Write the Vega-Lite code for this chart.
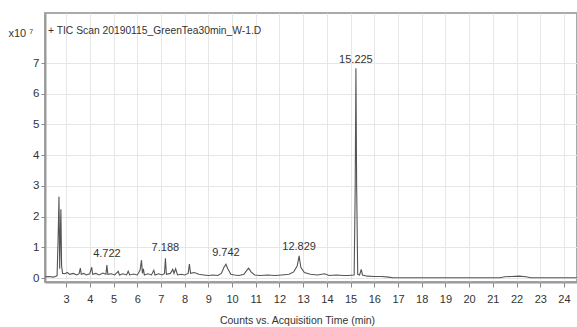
{
  "$schema": "https://vega.github.io/schema/vega-lite/v6.json",
  "width": 532,
  "height": 269,
  "autosize": {"type": "none"},
  "padding": {"left": 45, "top": 13, "right": 0, "bottom": 45},
  "config": {
    "view": {"stroke": "#aaaaaa", "strokeWidth": 2},
    "font": "Liberation Sans, Arial, sans-serif"
  },
  "datasets": {
    "tic": [
      {"t": 2.11, "v": 0.04}, {"t": 2.3, "v": 0.05}, {"t": 2.45, "v": 0.03}, {"t": 2.55, "v": 0.05},
      {"t": 2.62, "v": 0.08}, {"t": 2.66, "v": 1.2}, {"t": 2.7, "v": 2.65}, {"t": 2.73, "v": 0.3},
      {"t": 2.76, "v": 1.5}, {"t": 2.78, "v": 2.24}, {"t": 2.81, "v": 0.4}, {"t": 2.85, "v": 0.15},
      {"t": 2.95, "v": 0.14}, {"t": 3.05, "v": 0.18}, {"t": 3.15, "v": 0.12}, {"t": 3.3, "v": 0.15},
      {"t": 3.45, "v": 0.1}, {"t": 3.55, "v": 0.14}, {"t": 3.6, "v": 0.32}, {"t": 3.64, "v": 0.12},
      {"t": 3.75, "v": 0.15}, {"t": 3.85, "v": 0.1}, {"t": 4.0, "v": 0.14}, {"t": 4.08, "v": 0.35},
      {"t": 4.12, "v": 0.12}, {"t": 4.25, "v": 0.15}, {"t": 4.4, "v": 0.1}, {"t": 4.55, "v": 0.16},
      {"t": 4.68, "v": 0.12}, {"t": 4.72, "v": 0.42}, {"t": 4.76, "v": 0.12}, {"t": 4.9, "v": 0.14},
      {"t": 5.05, "v": 0.1}, {"t": 5.2, "v": 0.22}, {"t": 5.25, "v": 0.1}, {"t": 5.4, "v": 0.14},
      {"t": 5.55, "v": 0.1}, {"t": 5.62, "v": 0.22}, {"t": 5.68, "v": 0.1}, {"t": 5.85, "v": 0.13},
      {"t": 6.0, "v": 0.1}, {"t": 6.12, "v": 0.25}, {"t": 6.18, "v": 0.58}, {"t": 6.22, "v": 0.15},
      {"t": 6.26, "v": 0.3}, {"t": 6.3, "v": 0.1}, {"t": 6.45, "v": 0.14}, {"t": 6.6, "v": 0.1},
      {"t": 6.7, "v": 0.25}, {"t": 6.75, "v": 0.1}, {"t": 6.9, "v": 0.14}, {"t": 7.05, "v": 0.1},
      {"t": 7.15, "v": 0.15}, {"t": 7.19, "v": 0.64}, {"t": 7.23, "v": 0.12}, {"t": 7.4, "v": 0.15},
      {"t": 7.5, "v": 0.28}, {"t": 7.55, "v": 0.15}, {"t": 7.62, "v": 0.3}, {"t": 7.7, "v": 0.1},
      {"t": 7.85, "v": 0.12}, {"t": 8.0, "v": 0.1}, {"t": 8.15, "v": 0.15}, {"t": 8.2, "v": 0.45},
      {"t": 8.25, "v": 0.15}, {"t": 8.4, "v": 0.18}, {"t": 8.6, "v": 0.12}, {"t": 8.8, "v": 0.1},
      {"t": 9.0, "v": 0.08}, {"t": 9.2, "v": 0.1}, {"t": 9.4, "v": 0.08}, {"t": 9.55, "v": 0.15},
      {"t": 9.66, "v": 0.35}, {"t": 9.742, "v": 0.45}, {"t": 9.82, "v": 0.3}, {"t": 9.95, "v": 0.12},
      {"t": 10.1, "v": 0.1}, {"t": 10.3, "v": 0.08}, {"t": 10.5, "v": 0.12}, {"t": 10.62, "v": 0.25},
      {"t": 10.7, "v": 0.32}, {"t": 10.8, "v": 0.2}, {"t": 10.95, "v": 0.1}, {"t": 11.2, "v": 0.08},
      {"t": 11.5, "v": 0.1}, {"t": 11.8, "v": 0.08}, {"t": 12.1, "v": 0.1}, {"t": 12.4, "v": 0.12},
      {"t": 12.6, "v": 0.2}, {"t": 12.75, "v": 0.4}, {"t": 12.829, "v": 0.72}, {"t": 12.9, "v": 0.35},
      {"t": 13.05, "v": 0.18}, {"t": 13.3, "v": 0.12}, {"t": 13.6, "v": 0.1}, {"t": 13.9, "v": 0.14},
      {"t": 14.1, "v": 0.08}, {"t": 14.4, "v": 0.1}, {"t": 14.7, "v": 0.08}, {"t": 14.9, "v": 0.08},
      {"t": 15.15, "v": 0.1}, {"t": 15.195, "v": 3.0}, {"t": 15.225, "v": 6.83}, {"t": 15.255, "v": 3.0},
      {"t": 15.3, "v": 0.12}, {"t": 15.38, "v": 0.1}, {"t": 15.45, "v": 0.28}, {"t": 15.5, "v": 0.1},
      {"t": 15.7, "v": 0.06}, {"t": 16.0, "v": 0.05}, {"t": 16.3, "v": 0.05}, {"t": 16.6, "v": 0.03},
      {"t": 16.8, "v": 0.01}, {"t": 18.0, "v": 0.01}, {"t": 20.0, "v": 0.01}, {"t": 21.3, "v": 0.01},
      {"t": 21.5, "v": 0.04}, {"t": 21.8, "v": 0.05}, {"t": 22.1, "v": 0.06}, {"t": 22.4, "v": 0.04},
      {"t": 22.6, "v": 0.01}, {"t": 24.55, "v": 0.01}
    ],
    "labels": [
      {"t": 4.722, "v": 0.78, "label": "4.722"},
      {"t": 7.188, "v": 0.97, "label": "7.188"},
      {"t": 9.742, "v": 0.81, "label": "9.742"},
      {"t": 12.829, "v": 1.02, "label": "12.829"},
      {"t": 15.225, "v": 7.1, "label": "15.225"}
    ],
    "heading": [
      {"t": 2.237, "v": 8.04, "label": "+ TIC Scan 20190115_GreenTea30min_W-1.D"}
    ]
  },
  "encoding": {
    "x": {
      "field": "t", "type": "quantitative",
      "scale": {"domain": [2.11, 24.55], "nice": false, "zero": false},
      "axis": {
        "values": [3,4,5,6,7,8,9,10,11,12,13,14,15,16,17,18,19,20,21,22,23,24],
        "labelOverlap": false, "labelFlush": false,
        "grid": true, "gridColor": "#e6e6e6", "gridWidth": 1,
        "domainColor": "#999999", "domainWidth": 2,
        "tickColor": "#888888", "tickSize": 5,
        "labelFontSize": 11, "labelColor": "#333333", "labelPadding": 6,
        "title": "Counts vs. Acquisition Time (min)",
        "titleFontSize": 10.5, "titleFontWeight": "normal", "titleColor": "#333333",
        "titlePadding": 11, "titleX": 252
      }
    },
    "y": {
      "field": "v", "type": "quantitative",
      "scale": {"domain": [-0.13, 8.63], "nice": false, "zero": false},
      "axis": {
        "values": [0,1,2,3,4,5,6,7],
        "labelOverlap": false, "labelFlush": false,
        "grid": true, "gridColor": "#e6e6e6", "gridWidth": 1,
        "domainColor": "#999999", "domainWidth": 2,
        "tickColor": "#888888", "tickSize": 4,
        "labelFontSize": 11.5, "labelColor": "#333333", "labelPadding": 2,
        "title": "x10 ⁷", "titleAngle": 0, "titleFontSize": 11, "titleFontWeight": "normal",
        "titleColor": "#333333", "titleAlign": "left", "titleBaseline": "middle",
        "titleX": -37, "titleY": 20
      }
    }
  },
  "layer": [
    {
      "data": {"name": "tic"},
      "mark": {"type": "line", "color": "#555555", "strokeWidth": 1.1, "clip": true}
    },
    {
      "data": {"name": "labels"},
      "mark": {"type": "text", "fontSize": 11, "color": "#333333", "baseline": "middle"},
      "encoding": {"text": {"field": "label"}}
    },
    {
      "data": {"name": "heading"},
      "mark": {"type": "text", "fontSize": 10.3, "color": "#333333", "baseline": "middle", "align": "left"},
      "encoding": {"text": {"field": "label"}}
    }
  ]
}
